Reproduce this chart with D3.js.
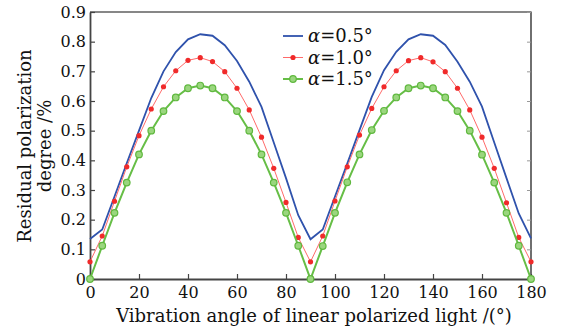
<!DOCTYPE html>
<html>
<head>
<meta charset="utf-8">
<script src="https://cdn.jsdelivr.net/npm/d3@7"></script>
<style>
  body { margin: 0; background: #fff; }
  svg text { font-family: "DejaVu Serif", serif; fill: #111; }
</style>
</head>
<body>
<div id="chart"></div>
<script>
// vibration angle, degrees
const angles = [0, 5, 10, 15, 20, 25, 30, 35, 40, 45, 50, 55, 60, 65, 70, 75, 80, 85, 90,
  95, 100, 105, 110, 115, 120, 125, 130, 135, 140, 145, 150, 155, 160, 165, 170, 175, 180];

const alpha05 = [0.135, 0.167, 0.278, 0.39, 0.50, 0.61, 0.70, 0.765, 0.808, 0.825, 0.82, 0.788, 0.735,
  0.665, 0.58, 0.46, 0.34, 0.215, 0.134, 0.167, 0.278, 0.389, 0.502, 0.614, 0.704, 0.766, 0.808,
  0.825, 0.82, 0.789, 0.732, 0.665, 0.581, 0.46, 0.34, 0.221, 0.137];
const alpha10 = [0.058, 0.145, 0.262, 0.378, 0.483, 0.573, 0.648, 0.702, 0.737, 0.746, 0.733, 0.699,
  0.643, 0.57, 0.478, 0.373, 0.258, 0.14, 0.058, 0.145, 0.263, 0.378, 0.485, 0.575, 0.648, 0.702,
  0.736, 0.746, 0.732, 0.699, 0.643, 0.57, 0.478, 0.373, 0.257, 0.14, 0.058];
const alpha15 = [0, 0.112, 0.223, 0.325, 0.42, 0.50, 0.566, 0.612, 0.643, 0.652, 0.643, 0.612, 0.566,
  0.50, 0.42, 0.325, 0.223, 0.112, 0, 0.111, 0.223, 0.326, 0.42, 0.502, 0.567, 0.612, 0.643, 0.652,
  0.643, 0.612, 0.566, 0.50, 0.419, 0.325, 0.223, 0.112, 0];

const xTicks = [0, 20, 40, 60, 80, 100, 120, 140, 160, 180];
const yTicks = [0, 0.1, 0.2, 0.3, 0.4, 0.5, 0.6, 0.7, 0.8, 0.9];
const legendLabels = ["0.5°", "1.0°", "1.5°"];

const width = 562, height = 328;
const plotL = 90, plotR = 531, plotT = 12, plotB = 279;

const svg = d3.select("#chart").append("svg")
  .attr("width", width)
  .attr("height", height);

const x = d3.scaleLinear().domain([0, 180]).range([plotL, plotR]);
const y = d3.scaleLinear().domain([0, 0.9]).range([plotB, plotT]);

// frame (top + right)
svg.append("path")
  .attr("d", `M${plotL},${plotT}H${plotR}V${plotB}`)
  .attr("fill", "none")
  .attr("stroke", "#111")
  .attr("stroke-width", 1.2);

// right side inner ticks
svg.append("g")
  .attr("transform", `translate(${plotR},0)`)
  .call(d3.axisLeft(y).tickValues(yTicks).tickSize(4).tickFormat(""))
  .call((g) => g.select(".domain").remove())
  .call((g) => g.selectAll("line").attr("stroke", "#999"));

// bottom axis
const xAxis = svg.append("g")
  .attr("transform", `translate(0,${plotB})`)
  .call(d3.axisBottom(x).tickValues(xTicks).tickSizeInner(-5).tickSizeOuter(0).tickPadding(8)
    .tickFormat(d3.format("d")));
xAxis.select(".domain").attr("stroke", "#444").attr("stroke-width", 1.8);
xAxis.selectAll("line").attr("stroke", "#444").attr("stroke-width", 1.2);
xAxis.selectAll("text").style("font-size", "16px").attr("fill", "#111");

// left axis
const yAxis = svg.append("g")
  .attr("transform", `translate(${plotL},0)`)
  .call(d3.axisLeft(y).tickValues(yTicks).tickSizeInner(-5).tickSizeOuter(0).tickPadding(4)
    .tickFormat((d) => (d === 0 ? "0" : d3.format(".1f")(d))));
yAxis.select(".domain").attr("stroke", "#444").attr("stroke-width", 1.8);
yAxis.selectAll("line").attr("stroke", "#444").attr("stroke-width", 1.2);
yAxis.selectAll("text").style("font-size", "16px").attr("fill", "#111");

// axis titles
svg.append("text")
  .attr("x", 314)
  .attr("y", 322)
  .attr("text-anchor", "middle")
  .style("font-size", "18px")
  .text("Vibration angle of linear polarized light /(°)");

const yTitle = svg.append("text")
  .attr("transform", "translate(31,146) rotate(-90)")
  .attr("text-anchor", "middle")
  .style("font-size", "18px");
yTitle.append("tspan").attr("x", 0).attr("dy", 0).text("Residual polarization");
yTitle.append("tspan").attr("x", 0).attr("dy", 20).text("degree /%");

const line = (vals) => d3.line()
  .x((d, i) => x(angles[i]))
  .y((d) => y(d))(vals);

// α = 0.5°
svg.append("path")
  .attr("d", line(alpha05))
  .attr("fill", "none")
  .attr("stroke", "#2f52ac")
  .attr("stroke-width", 1.8);

// α = 1.0°
svg.append("path")
  .attr("d", line(alpha10))
  .attr("fill", "none")
  .attr("stroke", "#ff6a6a")
  .attr("stroke-width", 1);
svg.append("g")
  .selectAll("circle")
  .data(alpha10)
  .join("circle")
  .attr("cx", (d, i) => x(angles[i]))
  .attr("cy", (d) => y(d))
  .attr("r", 2.6)
  .attr("fill", "#f02a2a");

// α = 1.5°
svg.append("path")
  .attr("d", line(alpha15))
  .attr("fill", "none")
  .attr("stroke", "#66be46")
  .attr("stroke-width", 2);
svg.append("g")
  .selectAll("circle")
  .data(alpha15)
  .join("circle")
  .attr("cx", (d, i) => x(angles[i]))
  .attr("cy", (d) => y(d))
  .attr("r", 3.3)
  .attr("fill", "#9ad67e")
  .attr("stroke", "#5fb83e")
  .attr("stroke-width", 1.2);

// legend
const legend = svg.append("g").attr("transform", "translate(283,36)");
const legRows = legend.selectAll("g")
  .data(legendLabels)
  .join("g")
  .attr("transform", (d, i) => `translate(0,${i * 21.5})`);

legRows.append("line")
  .attr("x1", 0).attr("x2", 20)
  .attr("stroke", (d, i) => ["#2f52ac", "#ff6a6a", "#66be46"][i])
  .attr("stroke-width", (d, i) => [1.8, 1, 2][i]);
legRows.filter((d, i) => i === 1).append("circle")
  .attr("cx", 10).attr("r", 2.6).attr("fill", "#f02a2a");
legRows.filter((d, i) => i === 2).append("circle")
  .attr("cx", 10).attr("r", 3.3).attr("fill", "#9ad67e")
  .attr("stroke", "#5fb83e").attr("stroke-width", 1.2);

const legText = legRows.append("text")
  .attr("x", 25)
  .attr("y", 6)
  .style("font-size", "18px");
legText.append("tspan").style("font-style", "italic").text("α");
legText.append("tspan").text((d) => "=" + d);
</script>
</body>
</html>
